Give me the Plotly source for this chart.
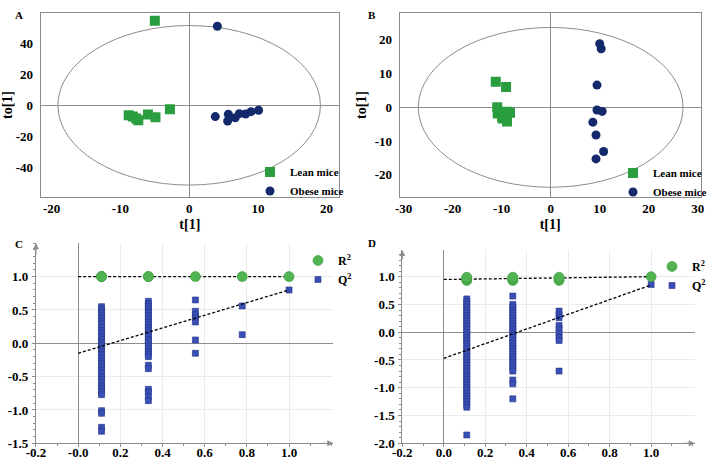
import plotly.graph_objects as go

# ---------------- data ----------------
# Panel A: OPLS-DA scores
a_lean_t = [-5.0, -2.8, -8.8, -8.2, -7.7, -7.4, -6.0, -4.9]
a_lean_to = [54.6, -2.6, -6.4, -7.3, -8.6, -9.6, -6.0, -7.7]
a_obese_t = [4.1, 3.8, 5.7, 5.6, 6.7, 7.3, 8.2, 9.0, 10.1]
a_obese_to = [51.0, -7.3, -5.8, -10.1, -8.0, -5.4, -5.6, -4.1, -3.2]
a_ellipse = [19.1, 51.5]          # Hotelling T2 semi-axes (t, to)

# Panel B: OPLS-DA scores
b_lean_t = [-11.2, -9.1, -10.9, -10.8, -9.9, -9.0, -8.3, -8.9, -9.8]
b_lean_to = [7.6, 6.0, 0.0, -1.8, -2.8, -1.3, -1.6, -4.2, -3.3]
b_obese_t = [10.0, 10.3, 9.45, 9.45, 10.5, 8.6, 9.25, 10.8, 9.25]
b_obese_to = [18.9, 17.4, 6.6, -0.8, -1.2, -4.4, -8.2, -13.1, -15.3]
b_ellipse = [27.0, 23.7]

# Panel C: permutation test
c_corr = [0.111, 0.333, 0.556, 0.778, 1.0]
c_r2 = [[1.0, 1.0, 1.0], [1.0, 1.0], [1.0], [1.0], [1.0]]
c_q2 = [
    [0.55, 0.51, 0.47, 0.42, 0.38, 0.33, 0.29, 0.24, 0.19, 0.15, 0.10, 0.06, 0.01,
     -0.03, -0.08, -0.13, -0.17, -0.22, -0.27, -0.31, -0.36, -0.40, -0.45, -0.50,
     -0.54, -0.59, -0.64, -0.68, -0.73, -0.77, -1.01, -1.05, -1.26, -1.32],
    [0.63, 0.59, 0.55, 0.50, 0.46, 0.41, 0.37, 0.32, 0.28, 0.23, 0.19, 0.14, 0.10,
     0.05, 0.01, -0.04, -0.08, -0.13, -0.17, -0.20, -0.33, -0.38, -0.69, -0.73,
     -0.80, -0.86],
    [0.65, 0.48, 0.43, 0.38, 0.32, 0.05, -0.15],
    [0.56, 0.13],
    [0.80],
]
c_r2_line = [1.0, 1.0]      # intercept and value at corr = 1
c_q2_line = [-0.15, 0.80]

# Panel D: permutation test
d_corr = [0.111, 0.333, 0.556, 1.0]
d_r2 = [[0.93, 0.95, 0.97, 0.99], [0.93, 0.95, 0.97, 0.99], [0.93, 0.96, 0.99], [1.0]]
d_q2 = [
    [0.60, 0.55, 0.50, 0.45, 0.40, 0.35, 0.30, 0.25, 0.20, 0.15, 0.10, 0.05, 0.00,
     -0.05, -0.10, -0.15, -0.20, -0.25, -0.30, -0.35, -0.40, -0.45, -0.50, -0.55,
     -0.60, -0.65, -0.70, -0.75, -0.80, -0.85, -0.90, -0.95, -1.00, -1.05, -1.10,
     -1.15, -1.20, -1.25, -1.30, -1.35, -1.85],
    [0.65, 0.50, 0.45, 0.40, 0.35, 0.30, 0.25, 0.20, 0.15, 0.10, 0.05, 0.00, -0.05,
     -0.10, -0.15, -0.20, -0.25, -0.30, -0.35, -0.40, -0.45, -0.50, -0.55, -0.60,
     -0.65, -0.70, -0.86, -0.93, -1.20],
    [0.38, 0.31, 0.26, 0.12, 0.05, -0.02, -0.09, -0.15, -0.70],
    [0.86],
]
d_r2_line = [0.95, 1.0]
d_q2_line = [-0.47, 0.85]

a_xtick_vals = [-20, -10, 0, 10, 20]
a_ytick_vals = [-40, -20, 0, 20, 40]
b_xtick_vals = [-30, -20, -10, 0, 10, 20, 30]
b_ytick_vals = [-20, -10, 0, 10, 20]
c_xtick_vals = [-0.2, 0.0, 0.2, 0.4, 0.6, 0.8, 1.0]
c_xtick_text = ["-0.2", "-0.0", "0.2", "0.4", "0.6", "0.8", "1.0"]
d_xtick_text = ["-0.2", "0.0", "0.2", "0.4", "0.6", "0.8", "1.0"]
c_ytick_vals = [-1.5, -1.0, -0.5, 0.0, 0.5, 1.0]
d_ytick_vals = [-2.0, -1.5, -1.0, -0.5, 0.0, 0.5, 1.0]

# ---------------- styles ----------------
FONT = "Liberation Serif"
GREEN = "#2a9d3f"
NAVY = "#13296b"
R2_GREEN = "#52b352"
Q2_BLUE = "#3a4fb6"
GRAY = "#8c8c8c"


def flat(groups, xs):
    xx, yy = [], []
    for x, g in zip(xs, groups):
        for v in g:
            xx.append(x)
            yy.append(v)
    return xx, yy


def bold(labels):
    return [f"<b>{t}</b>" for t in labels]


fig = go.Figure()

# ---- A ----
fig.add_trace(go.Scatter(x=a_lean_t, y=a_lean_to, mode="markers", name="<b>Lean mice</b>",
                         marker=dict(symbol="square", size=10, color=GREEN),
                         xaxis="x", yaxis="y", legend="legend"))
fig.add_trace(go.Scatter(x=a_obese_t, y=a_obese_to, mode="markers", name="<b>Obese mice</b>",
                         marker=dict(symbol="circle", size=9, color=NAVY),
                         xaxis="x", yaxis="y", legend="legend"))
# ---- B ----
fig.add_trace(go.Scatter(x=b_lean_t, y=b_lean_to, mode="markers", name="<b>Lean mice</b>",
                         marker=dict(symbol="square", size=10, color=GREEN),
                         xaxis="x2", yaxis="y2", legend="legend2"))
fig.add_trace(go.Scatter(x=b_obese_t, y=b_obese_to, mode="markers", name="<b>Obese mice</b>",
                         marker=dict(symbol="circle", size=9, color=NAVY),
                         xaxis="x2", yaxis="y2", legend="legend2"))

# ---- C / D ----
for (corr, r2g, q2g, r2l, q2l, ax, ay, lg) in [
    (c_corr, c_r2, c_q2, c_r2_line, c_q2_line, "x3", "y3", "legend3"),
    (d_corr, d_r2, d_q2, d_r2_line, d_q2_line, "x4", "y4", "legend4"),
]:
    qx, qy = flat(q2g, corr)
    rx, ry = flat(r2g, corr)
    fig.add_trace(go.Scatter(x=qx, y=qy, mode="markers", name="<b>Q<sup>2</sup></b>",
                             marker=dict(symbol="square", size=6, color=Q2_BLUE,
                                         line=dict(color="#24348a", width=0.6)),
                             xaxis=ax, yaxis=ay, legend=lg, legendrank=2))
    fig.add_trace(go.Scatter(x=[0, 1], y=q2l, mode="lines", showlegend=False,
                             line=dict(color="black", width=1.3, dash="3px,2px"),
                             xaxis=ax, yaxis=ay, hoverinfo="skip"))
    fig.add_trace(go.Scatter(x=[0, 1], y=r2l, mode="lines", showlegend=False,
                             line=dict(color="black", width=1.3, dash="3px,2px"),
                             xaxis=ax, yaxis=ay, hoverinfo="skip"))
    fig.add_trace(go.Scatter(x=rx, y=ry, mode="markers", name="<b>R<sup>2</sup></b>",
                             marker=dict(symbol="circle", size=10, color=R2_GREEN,
                                         line=dict(color="#3a9a3a", width=0.6)),
                             xaxis=ax, yaxis=ay, legend=lg, legendrank=1))

tickfont = dict(family=FONT, size=13, color="black", weight="bold")
titlefont = dict(family=FONT, size=14, color="black", weight="bold")


def score_axes(xdom, ydom, xr, yr, xt, yt, anchor_x, anchor_y):
    xa = dict(domain=xdom, range=xr, tickvals=xt, ticktext=bold(xt), showgrid=False,
              zeroline=True, zerolinecolor=GRAY, zerolinewidth=1, showline=True,
              mirror=True, linecolor=GRAY, linewidth=1, ticks="", tickfont=tickfont,
              ticklabelstandoff=0, anchor=anchor_y,
              title=dict(text="<b>t[1]</b>", font=titlefont, standoff=3))
    ya = dict(domain=ydom, range=yr, tickvals=yt, ticktext=bold(yt), showgrid=False,
              zeroline=True, zerolinecolor=GRAY, zerolinewidth=1, showline=True,
              mirror=True, linecolor=GRAY, linewidth=1, ticks="", tickfont=tickfont,
              ticklabelstandoff=4, anchor=anchor_x,
              title=dict(text="<b>to[1]</b>", font=titlefont, standoff=4))
    return xa, ya


def perm_axes(xdom, ydom, yr, ytv, xtt, anchor_x, anchor_y):
    xa = dict(domain=xdom, range=[-0.2, 1.21], tickvals=c_xtick_vals, ticktext=bold(xtt),
              showgrid=True, gridcolor="#ebebeb", gridwidth=1, zeroline=True,
              zerolinecolor=GRAY, zerolinewidth=1, showline=True, linecolor=GRAY,
              linewidth=1, ticks="outside", ticklen=3, tickcolor=GRAY,
              minor=dict(dtick=0.1, ticks="outside", ticklen=2, tickcolor=GRAY, showgrid=False),
              tickfont=tickfont, anchor=anchor_y, ticklabelstandoff=-6)
    ya = dict(domain=ydom, range=yr, tickvals=ytv,
              ticktext=bold([f"{v:.1f}" for v in ytv]),
              showgrid=True, gridcolor="#ebebeb", gridwidth=1, zeroline=True,
              zerolinecolor=GRAY, zerolinewidth=1, showline=True, linecolor=GRAY,
              linewidth=1, ticks="outside", ticklen=3, tickcolor=GRAY,
              minor=dict(dtick=0.1, ticks="outside", ticklen=2, tickcolor=GRAY, showgrid=False),
              tickfont=tickfont, anchor=anchor_x, ticklabelstandoff=1)
    return xa, ya


xa1, ya1 = score_axes([0.0575, 0.4788], [0.5724, 0.9711], [-21.6, 21.8], [-59, 59.4],
                      a_xtick_vals, a_ytick_vals, "x", "y")
xa2, ya2 = score_axes([0.5645, 0.9897], [0.5724, 0.9711], [-30.8, 30.6], [-26.5, 27.9],
                      b_xtick_vals, b_ytick_vals, "x2", "y2")
xa3, ya3 = perm_axes([0.0508, 0.4708], [0.0363, 0.4711], [-1.5, 1.5], c_ytick_vals,
                     c_xtick_text, "x3", "y3")
xa4, ya4 = perm_axes([0.5682, 0.9812], [0.0363, 0.4565], [-2.0, 1.48], d_ytick_vals,
                     d_xtick_text, "x4", "y4")

legfont = dict(family=FONT, size=11, color="black", weight="bold")
legfont2 = dict(family=FONT, size=12, color="black", weight="bold")
leg_common = dict(bgcolor="rgba(0,0,0,0)", borderwidth=0, itemwidth=30,
                  tracegroupgap=0, xanchor="left", yanchor="middle")

shapes = [
    dict(type="circle", xref="x", yref="y", x0=-a_ellipse[0], x1=a_ellipse[0],
         y0=-a_ellipse[1], y1=a_ellipse[1], line=dict(color=GRAY, width=1), layer="below"),
    dict(type="circle", xref="x2", yref="y2", x0=-b_ellipse[0], x1=b_ellipse[0],
         y0=-b_ellipse[1], y1=b_ellipse[1], line=dict(color=GRAY, width=1), layer="below"),
]

annotations = []
for txt, x, y in [("A", 13, 7), ("B", 372, 7), ("C", 13, 244), ("D", 372, 243)]:
    annotations.append(dict(text=f"<b>{txt}</b>", x=x / 708, y=1 - y / 460, xref="paper",
                            yref="paper", showarrow=False,
                            font=dict(family=FONT, size=11, color="black", weight="bold")))
# axis arrows for C and D
for ax, ay, ybot, ytop in [("x3", "y3", -1.5, 1.5), ("x4", "y4", -2.0, 1.48)]:
    annotations.append(dict(x=1.21, y=ybot, ax=1.15, ay=ybot, xref=ax, yref=ay,
                            axref=ax, ayref=ay, text="", showarrow=True, arrowhead=2,
                            arrowsize=1.2, arrowwidth=1, arrowcolor=GRAY))
    annotations.append(dict(x=-0.2, y=ytop, ax=-0.2, ay=ytop - 0.2, xref=ax, yref=ay,
                            axref=ax, ayref=ay, text="", showarrow=True, arrowhead=2,
                            arrowsize=1.2, arrowwidth=1, arrowcolor=GRAY))

fig.update_layout(
    width=708, height=460,
    margin=dict(l=0, r=0, t=0, b=0, autoexpand=False),
    paper_bgcolor="white", plot_bgcolor="white",
    xaxis=xa1, yaxis=ya1, xaxis2=xa2, yaxis2=ya2,
    xaxis3=xa3, yaxis3=ya3, xaxis4=xa4, yaxis4=ya4,
    legend=dict(x=250 / 708, y=1 - 181.5 / 460, font=legfont, **leg_common),
    legend2=dict(x=613 / 708, y=1 - 182.5 / 460, font=legfont, **leg_common),
    legend3=dict(x=298 / 708, y=1 - 270 / 460, font=legfont2, **leg_common),
    legend4=dict(x=652 / 708, y=1 - 276 / 460, font=legfont2, **leg_common),
    shapes=shapes, annotations=annotations,
    showlegend=True,
)

fig.write_html("out.html", config={"displayModeBar": False},
               post_script="document.body.style.margin='0';document.body.style.overflow='hidden';")
